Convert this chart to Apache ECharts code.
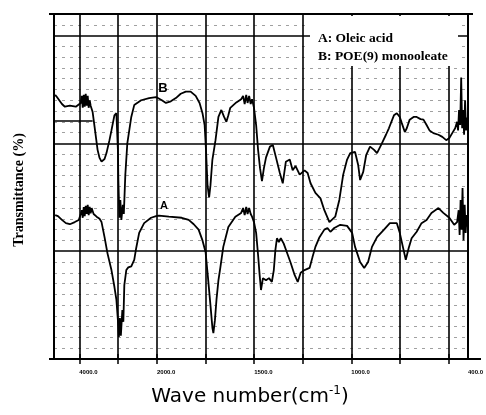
<!DOCTYPE html>
<html>
<head>
<meta charset="utf-8">
<script src="https://cdn.jsdelivr.net/npm/echarts@6/dist/echarts.min.js"></script>
<style>
  html, body { margin: 0; padding: 0; background: #fff; }
  #chart { width: 486px; height: 415px; }
</style>
</head>
<body>
<div id="chart"></div>
<script>
// values (wave number in cm-1, transmittance in chart divisions)
const waveB = [4620, 4575, 4446, 4370, 4242, 4089, 3962, 3936, 3911, 3885, 3860, 3834, 3809, 3783, 3758, 3732, 3707,
  3656, 3605, 3529, 3478, 3427, 3350, 3300, 3223, 3172, 3096, 3045, 3006, 2994, 2968, 2943, 2917, 2879, 2854, 2815,
  2764, 2662, 2586, 2408, 2204, 2025, 1975, 1954, 1929, 1903, 1878, 1852, 1827, 1801, 1781, 1766, 1755, 1748, 1740,
  1732, 1725, 1715, 1699, 1684, 1669, 1656, 1643, 1633, 1623, 1592, 1567, 1557, 1549, 1541, 1534, 1526, 1518, 1511,
  1501, 1490, 1480, 1470, 1460, 1450, 1439, 1419, 1404, 1388, 1368, 1353, 1337, 1317, 1302, 1287, 1266, 1241, 1225,
  1210, 1185, 1159, 1139, 1113, 1083, 1062, 1042, 1022, 1006, 981, 965, 955, 939, 924, 904, 883, 868, 843, 822, 807,
  781, 766, 751, 741, 725, 715, 700, 680, 664, 644, 629, 613, 598, 578, 552, 532, 512, 496, 481, 466, 456, 451, 446,
  440, 435, 430, 425, 420, 415, 410, 405, 400];
const transB = [24.5, 24.3, 23.65, 23.4, 23.5, 23.4, 23.75, 24.4, 23.3, 24.5, 23.4, 24.6, 23.5, 24.4, 23.3, 24.0, 23.5,
  22.9, 21.5, 19.4, 18.65, 18.3, 18.55, 19.1, 20.3, 21.2, 22.6, 22.8, 19.4, 16.6, 13.1, 14.75, 12.9, 14.3, 13.45, 17.1,
  20.0, 22.45, 23.55, 24.0, 24.2, 24.3, 24.0, 23.75, 23.9, 24.2, 24.6, 24.8, 24.8, 24.4, 23.75, 22.8, 21.7, 19.4, 16.1,
  15.0, 16.1, 18.5, 20.3, 22.45, 23.1, 22.5, 22.0, 22.6, 23.3, 23.8, 24.1, 24.4, 23.65, 24.5, 23.75, 24.4, 23.65, 24.1,
  23.3, 21.7, 19.4, 17.7, 16.5, 17.7, 18.7, 19.7, 19.85, 18.7, 17.25, 16.3, 18.3, 18.5, 17.5, 17.9, 17.1, 17.5, 17.25,
  16.3, 15.4, 14.9, 13.8, 12.7, 13.2, 14.75, 17.1, 18.5, 19.1, 19.2, 18.0, 16.6, 17.35, 18.9, 19.7, 19.4, 19.1, 20.0,
  20.8, 21.4, 22.6, 22.8, 22.45, 21.9, 21.05, 21.4, 22.2, 22.45, 22.45, 22.25, 22.2, 21.7, 21.2, 20.95, 20.8, 20.6,
  20.3, 20.5, 20.95, 21.4, 22.0, 21.2, 23.1, 21.7, 26.1, 21.4, 23.1, 20.8, 24.0, 21.2, 22.4, 21.7];

const waveA = [4620, 4548, 4446, 4344, 4242, 4115, 4013, 3962, 3936, 3911, 3885, 3860, 3834, 3809, 3783, 3758, 3732,
  3707, 3681, 3631, 3554, 3478, 3427, 3350, 3274, 3172, 3096, 3045, 3006, 2981, 2955, 2930, 2892, 2866, 2841, 2790,
  2739, 2662, 2586, 2535, 2459, 2331, 2153, 2025, 1990, 1939, 1873, 1837, 1811, 1786, 1766, 1750, 1738, 1725, 1715,
  1710, 1702, 1694, 1684, 1674, 1659, 1633, 1597, 1567, 1557, 1549, 1541, 1534, 1526, 1518, 1511, 1501, 1490, 1480,
  1472, 1465, 1455, 1439, 1424, 1409, 1399, 1391, 1383, 1373, 1363, 1348, 1332, 1312, 1292, 1276, 1261, 1241, 1215,
  1200, 1185, 1164, 1139, 1123, 1108, 1088, 1057, 1022, 996, 981, 955, 934, 914, 894, 868, 832, 802, 766, 751, 735,
  720, 705, 690, 664, 639, 613, 588, 552, 527, 496, 471, 456, 448, 443, 438, 433, 428, 423, 417, 412, 407, 400];
const transA = [13.35, 13.25, 12.9, 12.6, 12.5, 12.7, 12.9, 13.45, 13.8, 13.1, 14.1, 13.25, 14.2, 13.45, 14.3, 13.35,
  14.1, 13.5, 14.0, 13.45, 13.2, 13.0, 12.7, 11.3, 9.8, 8.25, 6.7, 5.5, 3.6, 2.05, 3.8, 2.15, 4.55, 3.45, 6.85, 8.25,
  8.5, 8.6, 9.2, 10.3, 11.7, 12.6, 13.1, 13.25, 13.3, 13.2, 13.1, 12.9, 12.5, 12.0, 11.0, 9.9, 7.6, 5.0, 2.9, 2.4,
  3.6, 5.5, 7.3, 8.5, 10.4, 12.25, 13.2, 13.55, 14.0, 13.35, 14.1, 13.45, 14.0, 13.45, 13.2, 12.7, 11.7, 9.65, 7.8,
  6.4, 7.5, 7.3, 7.5, 7.15, 8.25, 10.1, 11.2, 10.85, 11.2, 10.7, 9.9, 8.9, 7.8, 7.15, 8.0, 8.25, 8.45, 9.45, 10.4,
  11.3, 12.0, 12.15, 11.8, 12.15, 12.45, 12.35, 11.7, 10.4, 9.0, 8.45, 9.0, 10.4, 11.3, 12.0, 12.6, 12.6, 11.7, 10.4,
  9.2, 10.3, 11.2, 11.8, 12.6, 12.9, 13.55, 14.0, 13.55, 13.1, 12.45, 12.7, 13.8, 11.5, 14.75, 12.0, 15.85, 11.0,
  14.3, 11.7, 13.35, 12.15];

const gridWave = [4000, 3000, 2000, 1750, 1500, 1250, 1000, 750, 500];
const labelWave = [4000, 2000, 1500, 1000, 400];
const legendLines = ['A: Oleic acid', 'B: POE(9) monooleate'];

// chart paper changes scale at 2000 cm-1, the high range is squeezed 5x
const BREAK = 2000, SQUEEZE = 5;
function toAxis(w) { return w <= BREAK ? w : BREAK + (w - BREAK) / SQUEEZE; }
function fromAxis(u) { return u <= BREAK ? u : BREAK + (u - BREAK) * SQUEEZE; }

const dataB = waveB.map((w, i) => [toAxis(w), transB[i]]);
const dataA = waveA.map((w, i) => [toAxis(w), transA[i]]);

const serif = 'Liberation Serif';
const curveLabel = (txt, size) => ({
  symbol: 'circle', symbolSize: 0, silent: true,
  label: { show: true, formatter: txt, color: '#000', fontWeight: 'bold', fontSize: size, fontFamily: 'Liberation Sans' }
});

let myChart = echarts.init(document.getElementById('chart'));
myChart.setOption({
  animation: false,
  backgroundColor: '#fff',
  grid: { left: 54, right: 14, top: 14, bottom: 56 },
  xAxis: [
    {
      type: 'value', inverse: true, min: 400, max: 2530,
      axisLine: { lineStyle: { color: '#000', width: 2 } },
      axisTick: { show: true, length: 5, lineStyle: { color: '#000', width: 1.5 },
        customValues: gridWave.map(toAxis) },
      axisLabel: {
        customValues: labelWave.map(toAxis), showMinLabel: true, showMaxLabel: true,
        formatter: v => fromAxis(v).toFixed(1), align: 'left', margin: 10,
        fontSize: 6, fontWeight: 'bold', color: '#000', fontFamily: 'Liberation Sans'
      },
      splitLine: { show: false }
    },
    {
      type: 'value', inverse: true, min: 400, max: 2530, position: 'top',
      axisLine: { show: true, lineStyle: { color: '#000', width: 2 } },
      axisTick: { show: true, length: 5, lineStyle: { color: '#000', width: 1.5 },
        customValues: gridWave.map(toAxis) },
      axisLabel: { show: false },
      splitLine: { show: false }
    }
  ],
  yAxis: [
    {
      type: 'value', min: 0, max: 32, interval: 10,
      axisLine: { show: true, lineStyle: { color: '#000', width: 2 } },
      axisTick: { show: false },
      axisLabel: { show: false },
      splitLine: { show: true, lineStyle: { color: '#000', width: 1.6 } },
      minorTick: { show: false, splitNumber: 10 },
      minorSplitLine: { show: true, lineStyle: { color: '#a0a0a0', width: 1, type: [3, 5] } }
    },
    {
      type: 'value', min: 0, max: 32, position: 'right',
      axisLine: { show: true, lineStyle: { color: '#000', width: 2 } },
      axisTick: { show: false }, axisLabel: { show: false }, splitLine: { show: false }
    }
  ],
  series: [
    {
      name: 'B', type: 'line', data: dataB, symbol: 'none', z: 4,
      lineStyle: { color: '#000', width: 1.8 },
      markPoint: Object.assign(curveLabel('B', 13), { data: [{ coord: [toAxis(1969), 25.1] }] })
    },
    {
      name: 'A', type: 'line', data: dataA, symbol: 'none', z: 4,
      lineStyle: { color: '#000', width: 1.8 },
      markPoint: Object.assign(curveLabel('A', 11), { data: [{ coord: [toAxis(1964), 14.2] }] })
    },
    {
      name: 'paper', type: 'line', data: [], z: 2,
      markLine: {
        silent: true, symbol: ['none', 'none'], label: { show: false },
        lineStyle: { color: '#000', width: 1.6, type: 'solid' },
        data: gridWave.map(w => ({ xAxis: toAxis(w) })).concat([
          [{ coord: [toAxis(4650), 22.1] }, { coord: [toAxis(3656), 22.1] }]
        ])
      }
    }
  ],
  graphic: [
    // axis lines of the paper run a little past the frame
    { type: 'line', shape: { x1: 49, y1: 359, x2: 481, y2: 359 }, style: { stroke: '#000', lineWidth: 2 }, z: 40 },
    { type: 'line', shape: { x1: 49, y1: 14, x2: 473, y2: 14 }, style: { stroke: '#000', lineWidth: 2 }, z: 40 },
    { type: 'rect', shape: { x: 310, y: 16, width: 148, height: 50 }, style: { fill: '#fff' }, z: 50 },
    { type: 'text', x: 318, y: 39, z: 51,
      style: { text: legendLines[0], font: 'bold 13.5px "' + serif + '"', fill: '#000', verticalAlign: 'middle' } },
    { type: 'text', x: 318, y: 57, z: 51,
      style: { text: legendLines[1], font: 'bold 13.5px "' + serif + '"', fill: '#000', verticalAlign: 'middle' } },
    { type: 'text', x: 19, y: 190, rotation: Math.PI / 2, z: 51,
      style: { text: 'Transmittance (%)', font: 'bold 14px "' + serif + '"', fill: '#000',
        align: 'center', verticalAlign: 'middle' } },
    { type: 'text', x: 250, y: 397, z: 51,
      style: {
        text: '{a|Wave number(cm}{s|-1}{a|)}', align: 'center', verticalAlign: 'middle',
        rich: {
          a: { fontSize: 20, fontFamily: 'DejaVu Sans', fill: '#000', lineHeight: 24 },
          s: { fontSize: 12, fontFamily: 'DejaVu Sans', fill: '#000', verticalAlign: 'top', lineHeight: 24 }
        }
      } }
  ]
});
window.onresize = function () { myChart.resize(); };
</script>
</body>
</html>
